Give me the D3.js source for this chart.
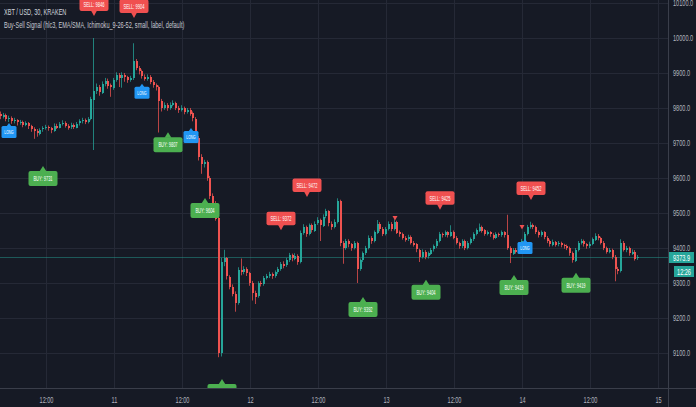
<!DOCTYPE html>
<html><head><meta charset="utf-8">
<script src="https://cdnjs.cloudflare.com/ajax/libs/d3/7.8.5/d3.min.js"></script>
<style>html,body{margin:0;padding:0;background:#161a25;overflow:hidden}svg{display:block}</style>
</head><body>
<script>
// ---- DATA (30-minute XBT/USD bars, Kraken) ----
const firstBar = "2020-06-10T04:00:00Z";
const opens = [
9782,9775,9780,9768,9772,9762,9765,9758,9760,9752,
9758,9748,9740,9735,9728,9738,9742,9745,9742,9735,
9750,9745,9755,9758,9750,9745,9752,9745,9755,9762,
9765,9760,9768,9825,9850,9860,9845,9870,9878,9865,
9858,9880,9895,9885,9895,9888,9880,9885,9935,9915,
9905,9890,9885,9890,9875,9865,9860,9820,9800,9810,
9800,9810,9815,9800,9795,9800,9790,9795,9785,9770,
9715,9660,9640,9645,9600,9550,9530,9485,9100,9360,
9370,9318,9290,9270,9243,9337,9330,9340,9328,9300,
9272,9262,9300,9297,9315,9320,9325,9318,9330,9340,
9355,9350,9365,9380,9370,9378,9360,9443,9460,9440,
9465,9450,9470,9480,9465,9490,9505,9470,9460,9475,
9535,9414,9400,9420,9410,9400,9415,9340,9365,9385,
9400,9430,9420,9445,9470,9455,9440,9455,9470,9455,
9475,9445,9440,9430,9425,9432,9415,9410,9395,9375,
9390,9375,9385,9395,9405,9420,9440,9437,9445,9435,
9447,9430,9415,9405,9420,9400,9415,9425,9440,9450,
9460,9450,9440,9445,9438,9430,9440,9437,9445,9436,
9400,9385,9395,9390,9410,9420,9440,9460,9465,9460,
9445,9437,9445,9430,9420,9410,9418,9410,9414,9408,
9405,9400,9385,9365,9395,9415,9420,9410,9405,9412,
9425,9435,9428,9415,9400,9390,9395,9375,9340,9335,
9415,9395,9400,9385,9390,9370];
const highs = [
9790,9786,9784,9778,9776,9772,9768,9766,9764,9762,
9760,9752,9745,9740,9742,9748,9752,9750,9746,9756,
9755,9760,9765,9762,9754,9758,9756,9760,9768,9772,
9770,9774,9832,10000,9870,9866,9876,9886,9884,9870,
9886,9902,9900,9902,9900,9892,9892,9985,9940,9920,
9910,9896,9896,9894,9880,9870,9864,9826,9816,9814,
9816,9822,9818,9806,9808,9804,9800,9800,9790,9774,
9720,9668,9652,9650,9606,9556,9534,9490,9372,9395,
9374,9322,9296,9276,9345,9370,9348,9345,9332,9306,
9278,9305,9306,9320,9326,9332,9330,9336,9346,9360,
9362,9372,9386,9384,9385,9382,9450,9468,9464,9470,
9470,9476,9488,9484,9496,9512,9508,9476,9482,9542,
9538,9420,9426,9425,9414,9420,9418,9370,9390,9406,
9436,9434,9450,9480,9474,9460,9460,9476,9474,9482,
9478,9450,9444,9434,9438,9436,9420,9414,9398,9396,
9394,9390,9400,9410,9426,9446,9444,9450,9448,9465,
9450,9434,9418,9425,9424,9420,9430,9445,9456,9470,
9464,9454,9450,9448,9442,9445,9444,9450,9448,9495,
9405,9400,9400,9416,9426,9446,9466,9475,9470,9464,
9450,9450,9448,9434,9424,9424,9420,9420,9418,9412,
9410,9404,9390,9400,9420,9426,9424,9414,9418,9430,
9442,9440,9432,9420,9404,9400,9398,9380,9346,9425,
9420,9406,9404,9396,9394,9380];
const lows = [
9768,9770,9762,9760,9755,9756,9750,9752,9745,9748,
9740,9732,9712,9718,9722,9732,9738,9735,9728,9732,
9740,9742,9750,9744,9738,9740,9740,9742,9750,9756,
9754,9756,9765,9680,9840,9835,9840,9862,9855,9832,
9852,9875,9860,9858,9875,9872,9875,9880,9908,9896,
9884,9878,9878,9868,9858,9850,9730,9790,9795,9792,
9795,9805,9794,9786,9790,9782,9784,9778,9762,9708,
9650,9612,9630,9592,9540,9520,9478,9088,9090,9348,
9310,9282,9262,9218,9238,9322,9325,9320,9292,9250,
9240,9258,9290,9292,9310,9314,9312,9315,9326,9335,
9342,9346,9360,9362,9365,9352,9356,9438,9432,9436,
9444,9446,9466,9420,9460,9485,9462,9452,9456,9470,
9405,9355,9395,9402,9392,9396,9300,9335,9360,9380,
9396,9412,9416,9440,9448,9434,9436,9450,9448,9450,
9440,9432,9424,9418,9420,9410,9404,9388,9360,9370,
9368,9370,9380,9390,9400,9416,9430,9432,9430,9432,
9425,9410,9398,9400,9394,9396,9410,9420,9436,9446,
9444,9435,9436,9432,9424,9426,9432,9432,9430,9395,
9357,9380,9384,9386,9405,9416,9436,9455,9454,9440,
9430,9432,9425,9414,9404,9405,9404,9405,9402,9398,
9394,9378,9358,9360,9390,9410,9404,9398,9400,9408,
9420,9422,9410,9394,9384,9385,9368,9305,9325,9330,
9390,9388,9378,9380,9364,9366];
const closes = [
9775,9780,9768,9772,9762,9765,9758,9760,9752,9758,
9748,9740,9735,9728,9738,9742,9745,9742,9735,9750,
9745,9755,9758,9750,9745,9752,9745,9755,9762,9765,
9760,9768,9825,9850,9860,9845,9870,9878,9865,9858,
9880,9895,9885,9895,9888,9880,9885,9935,9915,9905,
9890,9885,9890,9875,9865,9860,9820,9800,9810,9800,
9810,9815,9800,9795,9800,9790,9795,9785,9770,9715,
9660,9640,9645,9600,9550,9530,9485,9100,9360,9370,
9318,9290,9270,9243,9337,9330,9340,9328,9300,9272,
9262,9300,9297,9315,9320,9325,9318,9330,9340,9355,
9350,9365,9380,9370,9378,9360,9443,9460,9440,9465,
9450,9470,9480,9465,9490,9505,9470,9460,9475,9535,
9414,9400,9420,9410,9400,9415,9340,9365,9385,9400,
9430,9420,9445,9470,9455,9440,9455,9470,9455,9475,
9445,9440,9430,9425,9432,9415,9410,9395,9375,9390,
9375,9385,9395,9405,9420,9440,9437,9445,9435,9447,
9430,9415,9405,9420,9400,9415,9425,9440,9450,9460,
9450,9440,9445,9438,9430,9440,9437,9445,9436,9400,
9385,9395,9390,9410,9420,9440,9460,9465,9460,9445,
9437,9445,9430,9420,9410,9418,9410,9414,9408,9405,
9400,9385,9365,9395,9415,9420,9410,9405,9412,9425,
9435,9428,9415,9400,9390,9395,9375,9340,9335,9415,
9395,9400,9385,9390,9370,9374];

const priceTicks = [9100,9200,9300,9400,9500,9600,9700,9800,9900,10000,10100];
const lastPrice = 9373.9;
const countdown = "12:26";

// Buy-Sell Signal labels (bar index, shown value, anchor price)
const sellBars   = [33, 47, 99, 108, 155, 187];
const sellValues = [9846, 9904, 9372, 9472, 9425, 9452];
const sellAt     = [10063, 10057, 9451, 9546, 9509, 9537];
const buyBars    = [15, 59, 72, 78, 128, 150, 181, 203];
const buyValues  = [9731, 9807, 9604, 9106, 9392, 9404, 9419, 9419];
const buyAt      = [9634, 9731, 9543, 9026, 9260, 9309, 9323, 9329];
const longBars   = [3, 50, 67, 185];
const longAt     = [9757, 9869, 9743, 9426];
const markBars   = [139, 184];
const markAt     = [9486, 9460];

const titleText = "XBT / USD, 30, KRAKEN";
const studyText = "Buy-Sell Signal (hlc3, EMA/SMA, Ichimoku_9-26-52, small, label, default)";

// ---- CHART ----
const W = 696, H = 407, PW = 668, PH = 388;
const UP = "#26a69a", DOWN = "#ef5350";
const FONT = "Liberation Sans, Arial, sans-serif";
const SX = 0.62; // horizontal squeeze of all text, as in the reference
const svg = d3.select("body").append("svg").attr("width", W).attr("height", H);
svg.append("rect").attr("width", W).attr("height", H).attr("fill", "#161a25");

// move a text's x/y into a transform and squeeze it horizontally
function squeeze(sel, sx) {
  sel.each(function () {
    const t = d3.select(this);
    const tx = +t.attr("x") || 0, ty = +t.attr("y") || 0;
    t.attr("x", 0).attr("y", 0).attr("transform", `translate(${tx},${ty}) scale(${sx},1)`);
  });
}

const t0 = new Date(firstBar).getTime();
const bars = closes.map((c, i) => ({t: new Date(t0 + i * 1800000), o: opens[i], h: highs[i], l: lows[i], c}));

const x = d3.scaleUtc()
  .domain([new Date(Date.UTC(2020, 5, 10)), new Date(Date.UTC(2020, 5, 15))])
  .range([-22, 658]);
const y = d3.scaleLinear().domain([9000, 10100]).range([PH, 3]);

svg.append("defs").append("clipPath").attr("id", "plot")
  .append("rect").attr("width", PW).attr("height", PH);

const grid = svg.append("g").attr("clip-path", "url(#plot)");
const xTicks = x.ticks(d3.utcHour.every(12)).filter(d => x(d) >= 0 && x(d) <= PW);
grid.selectAll("line.vx").data(xTicks).join("line")
  .attr("x1", d => Math.round(x(d)) + 0.5).attr("x2", d => Math.round(x(d)) + 0.5)
  .attr("y1", 0).attr("y2", PH).attr("stroke", "#252936").attr("stroke-width", 1);
grid.selectAll("line.hy").data(priceTicks).join("line")
  .attr("x1", 0).attr("x2", PW)
  .attr("y1", d => Math.round(y(d)) + 0.5).attr("y2", d => Math.round(y(d)) + 0.5)
  .attr("stroke", "#252936").attr("stroke-width", 1);

// current price line
grid.append("line").attr("x1", 0).attr("x2", PW)
  .attr("y1", Math.round(y(lastPrice)) + 0.5).attr("y2", Math.round(y(lastPrice)) + 0.5)
  .attr("stroke", UP).attr("stroke-opacity", 0.45);

// candles
const cg = svg.append("g").attr("clip-path", "url(#plot)");
const xc = d => Math.round(x(d.t));
cg.selectAll("rect.wick").data(bars).join("rect")
  .attr("x", d => xc(d) - 1).attr("width", 1)
  .attr("y", d => y(d.h)).attr("height", d => Math.max(1, y(d.l) - y(d.h)))
  .attr("fill", d => d.c >= d.o ? UP : DOWN).attr("opacity", 0.75);
cg.selectAll("rect.body").data(bars).join("rect")
  .attr("x", d => xc(d) - 1).attr("width", 2)
  .attr("y", d => Math.round(y(Math.max(d.o, d.c))))
  .attr("height", d => Math.max(1, Math.round(Math.abs(y(d.o) - y(d.c)))))
  .attr("fill", d => d.c >= d.o ? UP : DOWN);

// labels
const lg = svg.append("g").attr("clip-path", "url(#plot)");

sellBars.forEach((b, k) => {
  const tx = xc(bars[b]), ty = y(sellAt[k]);
  const g = lg.append("g");
  g.append("path").attr("d", `M${tx - 3},${ty - 5.5}L${tx + 3},${ty - 5.5}L${tx},${ty}Z`).attr("fill", "#f05050");
  g.append("rect").attr("x", tx - 14.5).attr("y", ty - 18.5).attr("width", 29).attr("height", 13.5)
    .attr("rx", 2).attr("fill", "#f05050");
  g.append("text").attr("x", tx).attr("y", ty - 11.5).attr("text-anchor", "middle")
    .attr("dominant-baseline", "central").attr("fill", "#fff")
    .attr("font-family", FONT).attr("font-size", 6.5)
    .text("SELL: " + sellValues[k]).call(squeeze, SX);
});
buyBars.forEach((b, k) => {
  const tx = xc(bars[b]), ty = y(buyAt[k]);
  const g = lg.append("g");
  g.append("path").attr("d", `M${tx - 3.5},${ty + 5.5}L${tx + 3.5},${ty + 5.5}L${tx},${ty}Z`).attr("fill", "#4caf50");
  g.append("rect").attr("x", tx - 14.5).attr("y", ty + 5).attr("width", 29).attr("height", 15)
    .attr("rx", 2).attr("fill", "#4caf50");
  g.append("text").attr("x", tx).attr("y", ty + 12.5).attr("text-anchor", "middle")
    .attr("dominant-baseline", "central").attr("fill", "#fff")
    .attr("font-family", FONT).attr("font-size", 6.5)
    .text("BUY: " + buyValues[k]).call(squeeze, SX);
});
longBars.forEach((b, k) => {
  const tx = xc(bars[b]), ty = y(longAt[k]);
  const g = lg.append("g");
  g.append("path").attr("d", `M${tx - 2.5},${ty + 3.5}L${tx + 2.5},${ty + 3.5}L${tx},${ty}Z`).attr("fill", "#2196f3");
  g.append("rect").attr("x", tx - 7.5).attr("y", ty + 3).attr("width", 15).attr("height", 12)
    .attr("rx", 1.5).attr("fill", "#2196f3");
  g.append("text").attr("x", tx).attr("y", ty + 9).attr("text-anchor", "middle")
    .attr("dominant-baseline", "central").attr("fill", "#fff")
    .attr("font-family", FONT).attr("font-size", 5)
    .text("LONG").call(squeeze, 0.66);
});
markBars.forEach((b, k) => {
  const tx = xc(bars[b]), ty = y(markAt[k]);
  lg.append("path").attr("d", `M${tx - 2.5},${ty - 2}L${tx + 2.5},${ty - 2}L${tx},${ty + 2.5}Z`).attr("fill", "#f05050");
});

// axis borders
svg.append("line").attr("x1", 0).attr("x2", W).attr("y1", PH + 0.5).attr("y2", PH + 0.5).attr("stroke", "#3a3e4a");
svg.append("line").attr("x1", PW + 0.5).attr("x2", PW + 0.5).attr("y1", 0).attr("y2", H).attr("stroke", "#3a3e4a");

// x axis
const xAxis = svg.append("g").attr("transform", `translate(0,${PH})`)
  .call(d3.axisBottom(x).tickValues(xTicks)
    .tickFormat(d => d.getUTCHours() === 0 ? String(d.getUTCDate()) : "12:00")
    .tickSize(0).tickPadding(9));
xAxis.select(".domain").remove();
xAxis.selectAll("text").attr("fill", "#b2b5be").attr("font-size", 9)
  .attr("font-family", FONT).call(squeeze, SX);

// y axis
const yAxis = svg.append("g").attr("transform", `translate(${PW},0)`)
  .call(d3.axisRight(y).tickValues(priceTicks).tickFormat(d3.format(".1f")).tickSize(0).tickPadding(5));
yAxis.select(".domain").remove();
yAxis.selectAll("text").attr("fill", "#b2b5be").attr("font-size", 9)
  .attr("font-family", FONT).call(squeeze, SX);

// last price tag and countdown
const py = Math.round(y(lastPrice));
svg.append("rect").attr("x", 669).attr("y", py - 5).attr("width", 25).attr("height", 11).attr("fill", UP);
svg.append("text").attr("x", 681.5).attr("y", py + 0.5).attr("text-anchor", "middle").attr("dominant-baseline", "central")
  .attr("fill", "#fff").attr("font-size", 9).attr("font-family", FONT)
  .text(d3.format(".1f")(lastPrice)).call(squeeze, SX);
svg.append("rect").attr("x", 674).attr("y", py + 9).attr("width", 20).attr("height", 11).attr("fill", UP);
svg.append("text").attr("x", 684).attr("y", py + 14.5).attr("text-anchor", "middle").attr("dominant-baseline", "central")
  .attr("fill", "#fff").attr("font-size", 9).attr("font-family", FONT)
  .text(countdown).call(squeeze, SX);

// titles
svg.append("text").attr("x", 4).attr("y", 15).attr("fill", "#d1d4dc").attr("font-size", 9)
  .attr("font-family", FONT).text(titleText).call(squeeze, SX);
svg.append("text").attr("x", 4).attr("y", 27.5).attr("fill", "#c8cad2").attr("font-size", 9)
  .attr("font-family", FONT).text(studyText).call(squeeze, SX);
</script>
</body></html>
